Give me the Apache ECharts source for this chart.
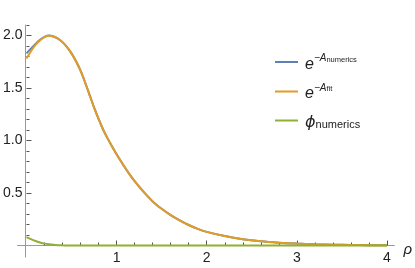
<!DOCTYPE html>
<html>
<head>
<meta charset="utf-8">
<script src="https://cdn.jsdelivr.net/npm/echarts@6/dist/echarts.min.js"></script>
<style>
html,body{margin:0;padding:0;background:#fff;}
#chart{width:415px;height:268px;}
</style>
</head>
<body>
<div id="chart"></div>
<script>
// ---- data ----
var rho = [0,0.05,0.1,0.15,0.2,0.25,0.3,0.35,0.4,0.45,0.5,0.55,0.6,0.65,0.7,0.75,0.8,0.85,0.9,0.95,1.0,1.05,1.1,1.15,1.2,1.3,1.4,1.5,1.6,1.7,1.8,1.9,2.0,2.2,2.4,2.6,2.8,3.0,3.2,3.4,3.6,3.8,4.0];
var expANumerics = [1.83,1.875,1.92,1.958,1.986,1.999,1.99,1.97,1.937,1.89,1.83,1.755,1.665,1.555,1.435,1.315,1.205,1.105,1.02,0.943,0.87,0.80,0.733,0.67,0.612,0.51,0.42,0.35,0.29,0.24,0.195,0.158,0.13,0.09,0.06,0.04,0.027,0.018,0.012,0.008,0.005,0.003,0.002];
var expAFit = [1.78,1.85,1.91,1.955,1.985,1.998,1.99,1.97,1.937,1.89,1.83,1.755,1.665,1.555,1.435,1.315,1.205,1.105,1.02,0.943,0.87,0.80,0.733,0.67,0.612,0.51,0.42,0.35,0.29,0.24,0.195,0.158,0.13,0.09,0.06,0.04,0.027,0.018,0.012,0.008,0.005,0.003,0.002];
var phiNumerics = [0.08,0.06,0.043,0.029,0.018,0.011,0.006,0.003,0.0015,0.0007,0.0003,0.0001,0,0,0,0,0,0,0,0,0,0,0,0,0,0,0,0,0,0,0,0,0,0,0,0,0,0,0,0,0,0,0];
var seriesNames = ['eAnumerics','eAfit','phinumerics'];
var xMajorTicks = [1,2,3,4];
var xMinorTicks = [0.2,0.4,0.6,0.8,1.2,1.4,1.6,1.8,2.2,2.4,2.6,2.8,3.2,3.4,3.6,3.8];
var yMajorTicks = [0.5,1.0,1.5,2.0];
var yMinorTicks = [0.1,0.2,0.3,0.4,0.6,0.7,0.8,0.9,1.1,1.2,1.3,1.4,1.6,1.7,1.8,1.9,2.1];

function pairs(xs, ys){ return xs.map(function(x,i){ return [x, ys[i]]; }); }

var FONT = '"Liberation Sans", Arial, sans-serif';
var TICK = '#555';
var chart = echarts.init(document.getElementById('chart'), null, {renderer:'canvas'});

var legendText = {
  eAnumerics: '{e|e}{sup|−A}{ss|numerics}',
  eAfit: '{e|e}{sup|−A}{ss|fit}',
  phinumerics: '{phi|ϕ}{sub|numerics}'
};

var option = {
  animation:false,
  backgroundColor:'#fff',
  grid:[
    // axis-line frame (lines overhang the data range like Mathematica's axes)
    {left:17.5, right:19, top:25, bottom:11, containLabel:false},
    // data frame: origin at the crossing of the axes
    {left:25.67, right:19, top:25, bottom:22.5, containLabel:false}
  ],
  xAxis:[
    {type:'value', gridIndex:0, min:-0.09, max:4.1, splitLine:{show:false},
     axisLine:{onZero:true, onZeroAxisIndex:0, lineStyle:{color:'#9a9a9a', width:1}},
     axisTick:{show:false}, axisLabel:{show:false},
     name:'ρ', nameLocation:'end', nameGap:9,
     nameTextStyle:{fontFamily:FONT, fontSize:15, fontStyle:'italic', color:'#222',
       verticalAlign:'top', lineHeight:8}},
    {type:'value', gridIndex:1, position:'bottom', min:0, max:4.1, splitLine:{show:false},
     axisLine:{show:false},
     axisTick:{show:true, inside:true, length:5, customValues:xMajorTicks, lineStyle:{color:TICK}},
     axisLabel:{show:true, customValues:xMajorTicks, margin:6, fontFamily:FONT, fontSize:14, color:'#222'}},
    {type:'value', gridIndex:1, position:'bottom', min:0, max:4.1, splitLine:{show:false},
     axisLine:{show:false},
     axisTick:{show:true, inside:true, length:3, customValues:xMinorTicks, lineStyle:{color:TICK}},
     axisLabel:{show:false}}
  ],
  yAxis:[
    {type:'value', gridIndex:0, min:-0.11, max:2.1, splitLine:{show:false},
     axisLine:{onZero:true, onZeroAxisIndex:0, lineStyle:{color:'#9a9a9a', width:1}},
     axisTick:{show:false}, axisLabel:{show:false}},
    {type:'value', gridIndex:1, position:'left', min:0, max:2.1, splitLine:{show:false},
     axisLine:{show:false},
     axisTick:{show:true, inside:true, length:5, customValues:yMajorTicks, lineStyle:{color:TICK}},
     axisLabel:{show:true, customValues:yMajorTicks, margin:4, fontFamily:FONT, fontSize:14, color:'#222',
       formatter:function(v){ return v.toFixed(1); }}},
    {type:'value', gridIndex:1, position:'left', min:0, max:2.1, splitLine:{show:false},
     axisLine:{show:false},
     axisTick:{show:true, inside:true, length:3, customValues:yMinorTicks, lineStyle:{color:TICK}},
     axisLabel:{show:false}}
  ],
  legend:{
    orient:'vertical', left:275, top:51.5, padding:0, itemWidth:23, itemHeight:2, itemGap:8.5,
    icon:'rect',
    data:seriesNames,
    formatter:function(n){ return legendText[n]; },
    textStyle:{
      fontFamily:FONT, color:'#222', padding:[0,0,0,2],
      rich:{
        e:{fontFamily:FONT, fontSize:16, fontStyle:'italic', color:'#222', lineHeight:22, padding:[5,0,0,0]},
        sup:{fontFamily:FONT, fontSize:10, fontStyle:'italic', color:'#222', lineHeight:22, padding:[0,0,7,0]},
        ss:{fontFamily:FONT, fontSize:7.5, color:'#222', lineHeight:22, padding:[0,0,5,0]},
        phi:{fontFamily:'"DejaVu Sans", sans-serif', fontSize:16, fontStyle:'italic', color:'#222', lineHeight:22, padding:[4,0,0,0]},
        sub:{fontFamily:FONT, fontSize:11, color:'#222', lineHeight:22, padding:[8,0,0,0]}
      }
    }
  },
  series:[
    {name:seriesNames[0], type:'line', xAxisIndex:1, yAxisIndex:1, data:pairs(rho, expANumerics), clip:false,
     symbol:'none', smooth:0.3, lineStyle:{color:'#5E81B5', width:2}, itemStyle:{color:'#5E81B5'}},
    {name:seriesNames[1], type:'line', xAxisIndex:1, yAxisIndex:1, data:pairs(rho, expAFit), clip:false,
     symbol:'none', smooth:0.3, lineStyle:{color:'#E19C24', width:2}, itemStyle:{color:'#E19C24'}},
    {name:seriesNames[2], type:'line', xAxisIndex:1, yAxisIndex:1, data:pairs(rho, phiNumerics), clip:false,
     symbol:'none', smooth:0.3, lineStyle:{color:'#8FB032', width:2}, itemStyle:{color:'#8FB032'}}
  ]
};
chart.setOption(option);
</script>
</body>
</html>
